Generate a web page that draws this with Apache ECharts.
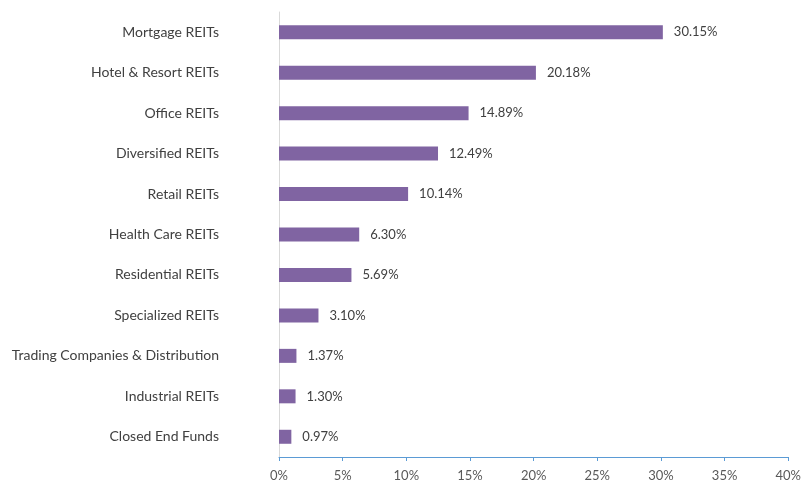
<!DOCTYPE html>
<html>
<head>
<meta charset="utf-8">
<script src="https://cdn.jsdelivr.net/npm/echarts@6/dist/echarts.min.js"></script>
<style>
  html, body { margin: 0; padding: 0; background: #fff; }
  #main { width: 804px; height: 482px; }
</style>
</head>
<body>
<div id="main"></div>
<script>
// categories, bottom to top (echarts draws category axis from bottom)
var categories = [
    "Closed End Funds",
    "Industrial REITs",
    "Trading Companies & Distribution",
    "Specialized REITs",
    "Residential REITs",
    "Health Care REITs",
    "Retail REITs",
    "Diversified REITs",
    "Office REITs",
    "Hotel & Resort REITs",
    "Mortgage REITs"
];
var weights = [0.97, 1.30, 1.37, 3.10, 5.69, 6.30, 10.14, 12.49, 14.89, 20.18, 30.15];
var xTicks = [0, 5, 10, 15, 20, 25, 30, 35, 40];

var myChart = echarts.init(document.getElementById("main"));
var font = "Lato, 'Open Sans', sans-serif";

var option = {
    animation: false,
    grid: {
        left: 279,
        right: 14,
        top: 12,
        bottom: 25,
        containLabel: false
    },
    xAxis: {
        type: "value",
        min: xTicks[0],
        max: xTicks[xTicks.length - 1],
        interval: 5,
        axisLine: { show: true, lineStyle: { color: "#5B9BD5", width: 1 } },
        axisTick: { show: true, length: 4, lineStyle: { color: "#5B9BD5" } },
        splitLine: { show: false },
        axisLabel: {
            color: "#595959",
            fontSize: 13,
            fontFamily: font,
            margin: 12,
            formatter: function (v) { return v + "%"; }
        }
    },
    yAxis: {
        type: "category",
        data: categories,
        axisLine: { show: true, lineStyle: { color: "#D9D9D9", width: 1 } },
        axisTick: { show: false },
        axisLabel: {
            color: "#404040",
            fontSize: 14,
            fontFamily: font,
            margin: 60
        }
    },
    series: [
        {
            type: "bar",
            data: weights,
            barWidth: 14,
            itemStyle: { color: "#8064A2" },
            label: {
                show: true,
                position: "right",
                distance: 11,
                color: "#404040",
                fontSize: 13,
                fontFamily: font,
                formatter: function (p) { return p.value.toFixed(2) + "%"; }
            }
        }
    ]
};
myChart.setOption(option);
</script>
</body>
</html>
